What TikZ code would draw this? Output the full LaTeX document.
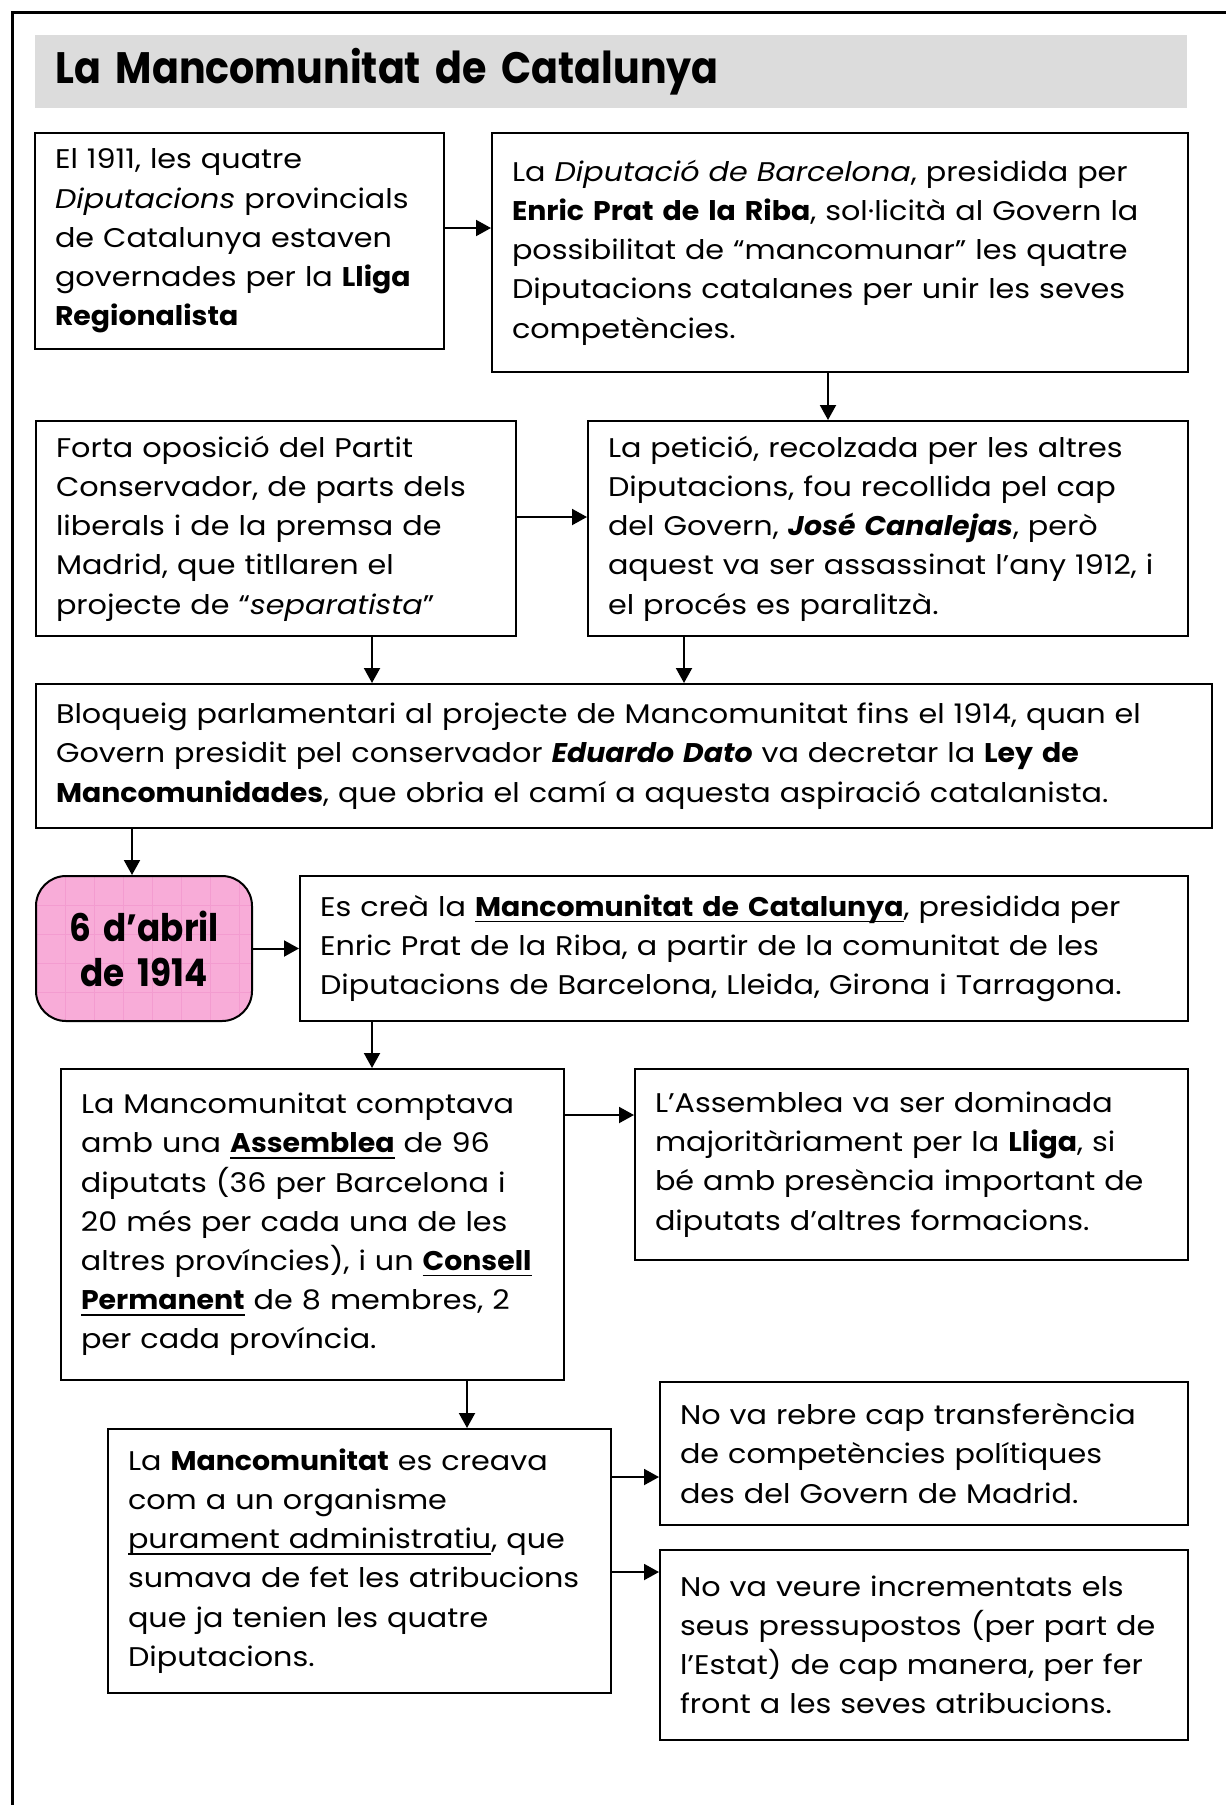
\documentclass[tikz,border=0pt]{standalone}
\usepackage{fontspec}
\setmainfont{Poppins}[FakeStretch=1.12,
  BoldFeatures={FakeStretch=1.05}, BoldItalicFeatures={FakeStretch=1.05}]
\newfontfamily\headfont{Poppins}[FakeStretch=0.9]
\usetikzlibrary{arrows.meta}
\newcommand{\undl}[1]{\leavevmode\setbox0\hbox{#1}\rlap{\rule[-3pt]{\wd0}{0.9pt}}\box0}
\definecolor{bandgray}{RGB}{220,220,220}
\definecolor{datepink}{RGB}{248,172,216}
\definecolor{gridpink}{RGB}{243,156,208}
\tikzset{
  box/.style 2 args={draw, line width=1pt, anchor=north west, align=left,
    inner xsep=10pt, inner ysep=0pt, minimum width=#1, text width=#1-20pt,
    minimum height=#2, font=\fontsize{13.5}{19.6}\selectfont},
  arr/.style={line width=1pt, -{Triangle[length=7.5pt,width=8pt]}},
  pinkgrid/.style={gridpink, line width=0.5pt}
}

\begin{document}
\begin{tikzpicture}[x=0.5pt,y=-0.5pt]
  \useasboundingbox (0,0) rectangle (1226,1805);
  \draw[line width=1.5pt] (12,1805) -- (12,12) -- (1226,12);

  \node[fill=bandgray, anchor=north west, align=left, inner xsep=10pt,
    minimum width=576pt, text width=556pt, minimum height=36.5pt,
    font=\headfont\fontsize{22}{24}\selectfont\bfseries] (band) at (35,35)
    {La Mancomunitat de Catalunya};

  \node[box={204.5pt}{108pt}] (a) at (34,132)
    {El 1911, les quatre\\ \emph{Diputacions} provincials\\ de Catalunya estaven\\
     governades per la \textbf{Lliga}\\ \textbf{Regionalista}};
  \node[box={348pt}{119.5pt}] (b) at (491,132)
    {La \emph{Diputació de Barcelona}, presidida per\\
     \textbf{Enric Prat de la Riba}, sol·licità al Govern la\\
     possibilitat de “mancomunar” les quatre\\
     Diputacions catalanes per unir les seves\\ competències.};
  \node[box={240pt}{107.5pt}] (c) at (35,420)
    {Forta oposició del Partit\\ Conservador, de parts dels\\ liberals i de la premsa de\\
     Madrid, que titllaren el\\ projecte de “\emph{separatista}”};
  \node[box={300pt}{107.5pt}] (d) at (587,420)
    {La petició, recolzada per les altres\\ Diputacions, fou recollida pel cap\\
     del Govern, \textbf{\emph{José Canalejas}}, però\\
     aquest va ser assassinat l’any 1912, i\\ el procés es paralitzà.};
  \node[box={588pt}{72pt}] (e) at (35,683)
    {Bloqueig parlamentari al projecte de Mancomunitat fins el 1914, quan el\\
     Govern presidit pel conservador \textbf{\emph{Eduardo Dato}} va decretar la \textbf{Ley de}\\
     \textbf{Mancomunidades}, que obria el camí a aquesta aspiració catalanista.};
  \node[box={108pt}{72.5pt}, rounded corners=15pt, fill=datepink, align=center,
    font=\headfont\fontsize{19}{22.5}\selectfont\bfseries,
    path picture={
      \foreach \k in {1,...,7} {
        \draw[pinkgrid] ([xshift=\k*14.5pt]path picture bounding box.north west)
          -- ([xshift=\k*14.5pt]path picture bounding box.south west);
        \draw[pinkgrid] ([yshift=-\k*14.5pt]path picture bounding box.north west)
          -- ([yshift=-\k*14.5pt]path picture bounding box.north east);
      }}] (f) at (35,875)
    {6 d’abril\\ de 1914};
  \node[box={444pt}{72.5pt}] (g) at (299,875)
    {Es creà la \textbf{\undl{Mancomunitat de Catalunya}}, presidida per\\
     Enric Prat de la Riba, a partir de la comunitat de les\\
     Diputacions de Barcelona, Lleida, Girona i Tarragona.};
  \node[box={251.5pt}{155.5pt}] (h) at (60,1068)
    {La Mancomunitat comptava\\ amb una \textbf{\undl{Assemblea}} de 96\\
     diputats (36 per Barcelona i\\ 20 més per cada una de les\\
     altres províncies), i un \textbf{\undl{Consell}}\\
     \textbf{\undl{Permanent}} de 8 membres, 2\\ per cada província.};
  \node[box={276.5pt}{95.5pt}] (i) at (634,1068)
    {L’Assemblea va ser dominada\\ majoritàriament per la \textbf{Lliga}, si\\
     bé amb presència important de\\ diputats d’altres formacions.};
  \node[box={251.5pt}{132pt}] (j) at (107,1428)
    {La \textbf{Mancomunitat} es creava\\ com a un organisme\\
     \undl{purament administratiu}, que\\ sumava de fet les atribucions\\
     que ja tenien les quatre\\ Diputacions.};
  \node[box={264pt}{71.5pt}] (k) at (659,1381)
    {No va rebre cap transferència\\ de competències polítiques\\
     des del Govern de Madrid.};
  \node[box={264pt}{95pt}] (l) at (659,1549)
    {No va veure incrementats els\\ seus pressupostos (per part de\\
     l’Estat) de cap manera, per fer\\ front a les seves atribucions.};

  \coordinate (ab) at ([yshift=6.5pt]a.east);
  \coordinate (bd) at ([xshift=-6pt]b.south);
  \coordinate (cd) at ([yshift=5.75pt]c.east);
  \coordinate (ce) at ([xshift=48pt]c.south);
  \coordinate (de) at ([xshift=-102pt]d.south);
  \coordinate (ef) at ([xshift=-6pt]f.north);
  \coordinate (gh) at ([xshift=29.75pt]h.north);
  \coordinate (hi) at ([yshift=24.75pt]i.west);
  \coordinate (hj) at ([xshift=53.75pt]j.north);
  \coordinate (jk) at ([yshift=-11.75pt]k.west);
  \coordinate (jl) at ([yshift=36.5pt]l.west);

  \draw[arr] (ab) -- (ab -| b.west);
  \draw[arr] (bd) -- (bd |- d.north);
  \draw[arr] (cd) -- (cd -| d.west);
  \draw[arr] (ce) -- (ce |- e.north);
  \draw[arr] (de) -- (de |- e.north);
  \draw[arr] (ef |- e.south) -- (ef);
  \draw[arr] (f) -- (g);
  \draw[arr] (gh |- g.south) -- (gh);
  \draw[arr] (hi -| h.east) -- (hi);
  \draw[arr] (hj |- h.south) -- (hj);
  \draw[arr] (jk -| j.east) -- (jk);
  \draw[arr] (jl -| j.east) -- (jl);
\end{tikzpicture}
\end{document}
